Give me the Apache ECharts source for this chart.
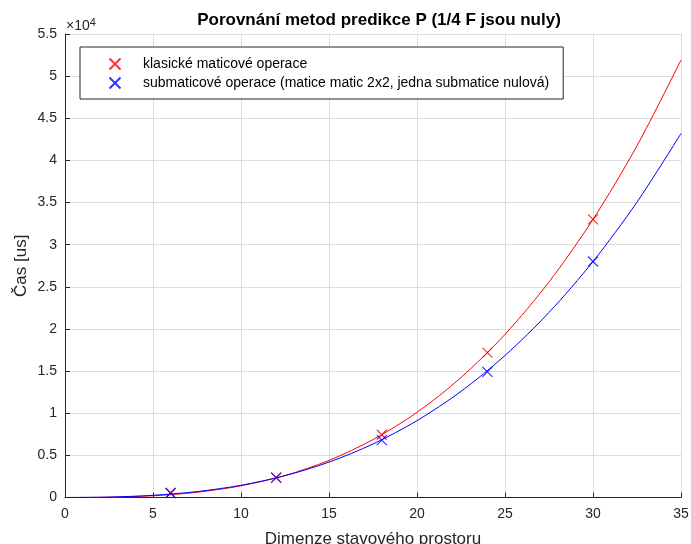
<!DOCTYPE html>
<html>
<head>
<meta charset="utf-8">
<script src="https://cdn.jsdelivr.net/npm/echarts@6/dist/echarts.min.js"></script>
<style>html,body{margin:0;padding:0;background:#fff}#c{width:691px;height:544px}</style>
</head>
<body>
<div id="c"></div>
<script>
// Data (time in microseconds)
const titleText = 'Porovnání metod predikce P (1/4 F jsou nuly)';
const xAxisName = 'Dimenze stavového prostoru';
const yAxisName = 'Čas [us]';
const seriesNames = ['klasické maticové operace', 'submaticové operace (matice matic 2x2, jedna submatice nulová)'];

// measured points
const pointsX = [6, 12, 18, 24, 30];
const redPoints = [530, 2350, 7450, 17200, 33000];
const bluePoints = [530, 2350, 6800, 14900, 28000];

// fitted curves
const curveX = [0, 2.5, 5, 7.5, 10, 12.5, 15, 17.5, 20, 22.5, 25, 27.5, 30, 32.5, 35];
const redCurve = [0, 35, 205, 620, 1390, 2610, 4400, 6870, 10100, 14240, 19360, 25580, 33000, 41740, 51900];
const blueCurve = [0, 50, 260, 700, 1450, 2590, 4200, 6350, 9120, 12590, 16850, 21960, 28000, 35050, 43200];

const xTicks = [0, 5, 10, 15, 20, 25, 30, 35];
const yMax = 55000, yStep = 5000;

const pair = (xs, ys) => xs.map((x, i) => [x, ys[i]]);
const crossPath = 'path://M0,0L10,10M10,0L0,10';
const txt = '#262626';
const font = 'Liberation Sans, Arial, sans-serif';

const chart = echarts.init(document.getElementById('c'), null, {renderer: 'canvas'});
chart.setOption({
  animation: false,
  backgroundColor: '#fff',
  textStyle: {fontFamily: font},
  title: {
    text: titleText, left: 374, top: 7, textAlign: 'center',
    textStyle: {fontSize: 17, fontWeight: 'bold', color: '#000', fontFamily: font}
  },
  grid: {left: 65, right: 10, top: 34, bottom: 46.5, containLabel: false, outerBoundsMode: 'none'},
  legend: {
    data: seriesNames,
    orient: 'vertical',
    left: 80, top: 47,
    padding: [9, 14, 8, 27],
    itemGap: 3,
    itemWidth: 12, itemHeight: 11,
    backgroundColor: '#fff',
    borderColor: txt, borderWidth: 1,
    borderRadius: 0,
    textStyle: {fontSize: 14, lineHeight: 14, color: '#000', fontFamily: font, padding: [0, 0, 0, 17]}
  },
  graphic: [{
    type: 'text', left: 66, top: 17,
    style: {
      text: '×10{s|4}',
      rich: {s: {fontSize: 11, verticalAlign: 'top', padding: [0, 0, 7, 0], fill: txt, fontFamily: font}},
      fontSize: 14, fill: txt, fontFamily: font
    }
  }],
  xAxis: {
    type: 'value', min: 0, max: 35, interval: 5,
    name: xAxisName, nameLocation: 'middle', nameGap: 33, nameMoveOverlap: false,
    nameTextStyle: {fontSize: 17, color: txt, fontFamily: font},
    axisLine: {show: true, lineStyle: {color: txt, width: 1}},
    axisTick: {show: true, inside: true, length: 5, lineStyle: {color: txt}},
    axisLabel: {fontSize: 14, color: txt, margin: 10, fontFamily: font},
    splitLine: {show: true, lineStyle: {color: '#dcdcdc', width: 1}}
  },
  yAxis: {
    type: 'value', min: 0, max: yMax, interval: yStep,
    name: yAxisName, nameLocation: 'middle', nameGap: 35, nameRotate: 90, nameMoveOverlap: false,
    nameTextStyle: {fontSize: 17, color: txt, fontFamily: font},
    axisLine: {show: true, lineStyle: {color: txt, width: 1}},
    axisTick: {show: true, inside: true, length: 5, lineStyle: {color: txt}},
    axisLabel: {fontSize: 14, color: txt, margin: 8, fontFamily: font,
      formatter: v => String(Math.round(v / 1000) / 10)},
    splitLine: {show: true, lineStyle: {color: '#dcdcdc', width: 1}}
  },
  series: [
    {type: 'line', name: 'redFit', data: pair(curveX, redCurve), smooth: 0.3, showSymbol: false,
     lineStyle: {color: '#ff0000', width: 1}, itemStyle: {color: '#ff0000'}, z: 3},
    {type: 'line', name: 'blueFit', data: pair(curveX, blueCurve), smooth: 0.3, showSymbol: false,
     lineStyle: {color: '#0000ff', width: 1}, itemStyle: {color: '#0000ff'}, z: 3},
    {type: 'scatter', name: seriesNames[0], data: pair(pointsX, redPoints), symbol: crossPath, symbolSize: 10,
     itemStyle: {color: 'none', borderColor: '#ff0000', borderWidth: 1.2}, z: 4},
    {type: 'scatter', name: seriesNames[1], data: pair(pointsX, bluePoints), symbol: crossPath, symbolSize: 10,
     itemStyle: {color: 'none', borderColor: '#0000ff', borderWidth: 1.2}, z: 5}
  ]
});
</script>
</body>
</html>
